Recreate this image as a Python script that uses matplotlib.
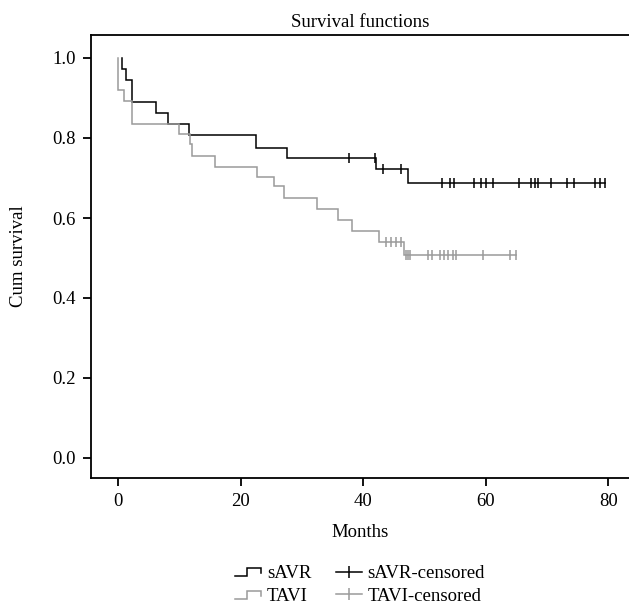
import numpy as np
import matplotlib
matplotlib.use("Agg")
import matplotlib.pyplot as plt
from matplotlib.lines import Line2D
from matplotlib.legend_handler import HandlerBase

plt.rcParams['font.family'] = ['Liberation Serif', 'DejaVu Serif']

# ---- data ----
savr_start = 0.55
savr_drop_times = [0.55, 1.26, 2.3, 6.1, 8.1, 11.5, 22.5, 27.5, 42.1, 47.35]
savr_surv = [0.972, 0.945, 0.891, 0.8625, 0.836, 0.807, 0.776, 0.749, 0.722, 0.687]
savr_censored = [37.6, 41.9, 43.2, 46.1, 52.9, 54.2, 54.8, 58.0, 59.2, 60.1, 61.1,
                 65.4, 67.4, 68.0, 68.6, 70.6, 73.3, 74.4, 77.9, 78.6, 79.4]

tavi_start = 0.0
tavi_drop_times = [0.0, 0.93, 2.24, 9.86, 11.7, 12.1, 15.8, 22.6, 25.4, 27.1,
                   32.5, 35.9, 38.2, 42.6, 46.6]
tavi_surv = [0.92, 0.892, 0.835, 0.81, 0.785, 0.756, 0.728, 0.703, 0.68, 0.649,
             0.622, 0.595, 0.568, 0.541, 0.508]
tavi_censored = [43.7, 44.5, 45.4, 46.1, 46.9, 47.3, 47.7, 50.6, 51.2, 52.5, 53.2,
                 53.9, 54.6, 55.2, 59.5, 63.9, 65.0]

x_ticks = [0, 20, 40, 60, 80]
y_ticks = [0.0, 0.2, 0.4, 0.6, 0.8, 1.0]
y_tick_labels = ["0.0", "0.2", "0.4", "0.6", "0.8", "1.0"]

BLACK = "#000000"
GRAY = "#9a9a9a"
FS = 13.5

fig = plt.figure(figsize=(6.29, 6.06), dpi=100)
ax = fig.add_axes([91 / 629, 1 - 478 / 606, 1 - 91 / 629, (478 - 35) / 606])


def km_xy(start, drops, surv, end):
    xs = [start] + list(drops) + [end]
    ys = [1.0] + list(surv) + [surv[-1]]
    return xs, ys


def surv_at(t, drops, surv):
    idx = np.searchsorted(drops, t, side='right') - 1
    return 1.0 if idx < 0 else surv[idx]


for start, drops, surv, cens, col in [
        (savr_start, savr_drop_times, savr_surv, savr_censored, BLACK),
        (tavi_start, tavi_drop_times, tavi_surv, tavi_censored, GRAY)]:
    xs, ys = km_xy(start, drops, surv, max(cens))
    ax.step(xs, ys, where='post', color=col, lw=1.1, solid_joinstyle='miter')
    cy = [surv_at(t, drops, surv) for t in cens]
    ax.plot(cens, cy, ls='none', marker='|', ms=7, mew=1.1, color=col)

ax.set_xlim(-4.46, 83.38)
ax.set_ylim(-0.05, 1.0575)
ax.set_xticks(x_ticks)
ax.set_yticks(y_ticks)
ax.set_yticklabels(y_tick_labels)
ax.tick_params(direction='out', length=6, width=1.3, labelsize=FS, pad=5)
for s in ['left', 'bottom', 'top']:
    ax.spines[s].set_linewidth(1.3)
ax.spines['right'].set_visible(False)

ax.set_title("Survival functions", fontsize=FS, pad=6)
ax.set_xlabel("Months", fontsize=FS, labelpad=10)
ax.set_ylabel("Cum survival", fontsize=FS, labelpad=18)


class StepHandler(HandlerBase):
    def create_artists(self, legend, orig_handle, xdescent, ydescent,
                       width, height, fontsize, trans):
        y0 = -ydescent + height * 0.15
        y1 = -ydescent + height * 0.75
        w = width
        xs = [-xdescent, -xdescent + 0.45 * w, -xdescent + 0.45 * w,
              -xdescent + w, -xdescent + w]
        ys = [y0, y0, y1, y1, y0 + (y1 - y0) * 0.35]
        ln = Line2D(xs, ys, color=orig_handle.get_color(), lw=1.1,
                    solid_joinstyle='miter', transform=trans)
        return [ln]


h_savr = Line2D([], [], color=BLACK)
h_tavi = Line2D([], [], color=GRAY)
h_savr_c = Line2D([], [], color=BLACK, lw=1.1, marker='|', ms=9, mew=1.1)
h_tavi_c = Line2D([], [], color=GRAY, lw=1.1, marker='|', ms=9, mew=1.1)

fig.legend([h_savr, h_tavi, h_savr_c, h_tavi_c],
           ["sAVR", "TAVI", "sAVR-censored", "TAVI-censored"],
           handler_map={h_savr: StepHandler(), h_tavi: StepHandler()},
           ncol=2, loc='center', bbox_to_anchor=(360 / 629, 1 - 585 / 606),
           frameon=False, fontsize=FS, handlelength=1.4, handletextpad=0.3,
           columnspacing=1.3, labelspacing=0.3, borderaxespad=0)

fig.savefig("out.png", dpi=100)
